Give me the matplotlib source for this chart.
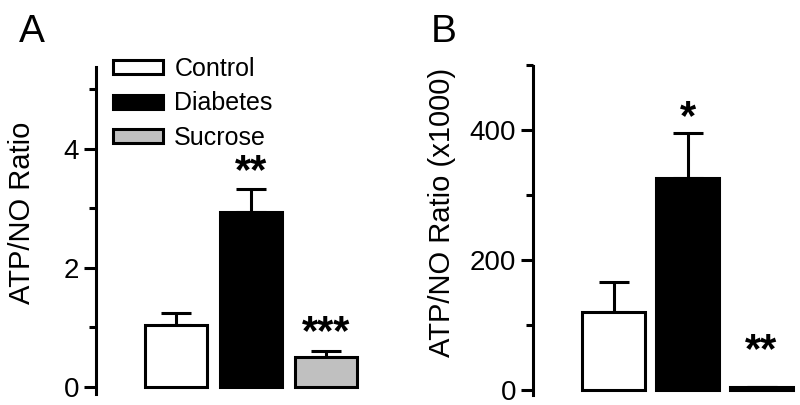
import matplotlib
matplotlib.use("Agg")
import matplotlib.pyplot as plt
from matplotlib.patches import Patch
from matplotlib.ticker import MultipleLocator

plt.rcParams['font.family'] = ['Liberation Sans', 'DejaVu Sans']

groups = ["Control", "Diabetes", "Sucrose"]
a_means = [1.04, 2.94, 0.50]
a_errs = [0.21, 0.39, 0.10]
a_stars = ["", "**", "***"]
b_means = [120, 326, 5]
b_errs = [46, 69, 0]
b_stars = ["", "*", "**"]
colors = ["white", "black", "#c0c0c0"]

W, H = 800, 405
fig = plt.figure(figsize=(8, 4.05), dpi=100)

def px_axes(left, right, top, bottom):
    return fig.add_axes([left / W, 1 - bottom / H, (right - left) / W, (bottom - top) / H])

lw = 2.2

def style(ax, ylim, bounds, major, minor):
    for s in ["top", "right", "bottom"]:
        ax.spines[s].set_visible(False)
    ax.spines["left"].set_linewidth(lw)
    ax.spines["left"].set_bounds(*bounds)
    ax.set_ylim(*ylim)
    ax.yaxis.set_major_locator(MultipleLocator(major))
    ax.yaxis.set_minor_locator(MultipleLocator(minor))
    ax.tick_params(axis="y", which="major", length=9, width=lw, labelsize=20, pad=3)
    ax.tick_params(axis="y", which="minor", length=5, width=lw)
    ax.set_xticks([])
    ax.patch.set_alpha(0)

def bars(ax, means, errs, stars, width, star_off):
    x = list(range(len(means)))
    ax.bar(x, means, width=width, color=colors, edgecolor="black", linewidth=lw, zorder=3)
    ax.errorbar(x, means, yerr=[[0] * len(errs), errs], fmt="none", ecolor="black",
                elinewidth=lw, capsize=10.5, capthick=lw, zorder=2)
    for xi, m, e, s, o in zip(x, means, errs, stars, star_off):
        if s:
            ax.annotate(s, (xi, m + e), xytext=(0, o), textcoords="offset points",
                        ha="center", va="center", fontsize=30, fontweight="bold")

# Panel A: spine at x=96, bar centers 176 + 75*i, 59.5 px/unit, 0 at y=387
axA = px_axes(96, 370, 387 - 5.4 * 59.5, 387 + 0.1 * 59.5)
axA.set_xlim((96 - 176) / 75, (370 - 176) / 75)
style(axA, (-0.1, 5.4), (-0.12, 5.38), 2, 1)
bars(axA, a_means, a_errs, a_stars, 0.83, [0, 12, 13])
handles = [Patch(facecolor=c, edgecolor="black", linewidth=lw) for c in colors]
fig.legend(handles, groups, loc="upper left", bbox_to_anchor=(113 / W, 1 - 57 / H),
           frameon=False, fontsize=18, handlelength=2.0, handleheight=0.5,
           handletextpad=0.45, labelspacing=0.42, borderpad=0, borderaxespad=0)

# Panel B: spine at x=533, bar centers 613.5 + 74*i, 0.65 px/unit, 0 at y=390
axB = px_axes(533, 798, 390 - 500 * 0.65, 390 + 10 * 0.65)
axB.set_xlim((533 - 613.5) / 74, (798 - 613.5) / 74)
style(axB, (-10, 500), (-8, 498), 200, 100)
bars(axB, b_means, b_errs, b_stars, 0.84, [0, 11, 26])

fig.text(22 / W, 1 - 213 / H, "ATP/NO Ratio", rotation=90, ha="center", va="center", fontsize=21)
fig.text(442 / W, 1 - 212 / H, "ATP/NO Ratio (x1000)", rotation=90, ha="center", va="center", fontsize=21)
fig.text(19 / W, 1 - 42 / H, "A", ha="left", va="baseline", fontsize=28)
fig.text(431 / W, 1 - 42 / H, "B", ha="left", va="baseline", fontsize=28)

fig.savefig("out.png", dpi=100)
